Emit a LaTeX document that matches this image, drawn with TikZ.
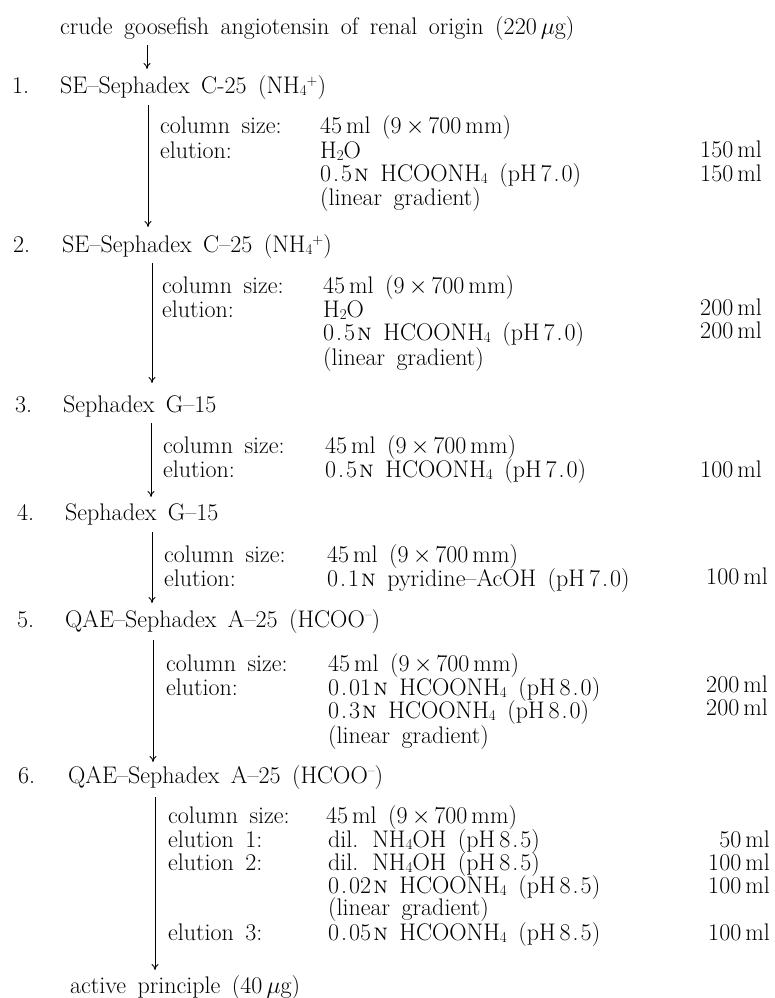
\documentclass[tikz,border=0pt]{standalone}
\usepackage{fix-cm}
\usetikzlibrary{arrows.meta}
\newcommand\bigtxt{\fontsize{24}{24}\selectfont\spaceskip=11.5pt plus 2pt minus 2pt\relax}
\newcommand\nrm{\kern2pt\textsc{n}}
\newcommand\dd{\kern2pt.\kern2pt}
\newcommand\sbs[1]{\raisebox{-2pt}{\fontsize{15}{15}\selectfont #1}}
\newcommand\sps[1]{\raisebox{8pt}{\fontsize{15}{15}\selectfont #1}}
\begin{document}
\begin{tikzpicture}[x=1pt,y=-1pt,
  txt/.style={anchor=base west,inner sep=0pt,font=\bigtxt},
  amt/.style={anchor=base east,inner sep=0pt,font=\bigtxt},
  flow/.style={line width=0.9pt,-{To[length=6pt,width=7pt]}}]
\useasboundingbox (0,0) rectangle (775,998);
% start
\node[txt] (top) at (60,35) {crude goosefish angiotensin of renal origin (220\,$\mu$g)};
\coordinate (a0s) at (147,45); \coordinate (a0e) at (147,69);
\draw[flow] (a0s) -- (a0e);
% step 1
\node[txt] (n1) at (12,93) {1.};
\node[txt] (s1) at (60,93) {SE--Sephadex C-25 (NH\sbs{4}\sps{+})};
\node[txt] (c1) at (160,133) {column size:};
\node[txt] (v1) at (320,133) {45\,ml (9\,$\times$\,700\,mm)};
\node[txt] (e1) at (160,158) {elution:};
\node[txt] (w1a) at (320,158) {H\sbs{2}O};
\node[amt] (m1a) at (762,157) {150\,ml};
\node[txt] (w1b) at (320,181) {0\dd5\nrm\ HCOONH\sbs{4} (pH\,7\dd0)};
\node[amt] (m1b) at (762,181) {150\,ml};
\node[txt] (g1) at (320,205) {(linear gradient)};
\coordinate (a1s) at (148,105); \coordinate (a1e) at (148,227);
\draw[flow] (a1s) -- (a1e);
% step 2
\node[txt] (n2) at (13,252) {2.};
\node[txt] (s2) at (62,252) {SE--Sephadex C--25 (NH\sbs{4}\sps{+})};
\node[txt] (c2) at (162,293) {column size:};
\node[txt] (v2) at (323,293) {45\,ml (9\,$\times$\,700\,mm)};
\node[txt] (e2) at (162,317) {elution:};
\node[txt] (w2a) at (323,317) {H\sbs{2}O};
\node[amt] (m2a) at (762,315) {200\,ml};
\node[txt] (w2b) at (323,340) {0\dd5\nrm\ HCOONH\sbs{4} (pH\,7\dd0)};
\node[amt] (m2b) at (762,338) {200\,ml};
\node[txt] (g2) at (323,365) {(linear gradient)};
\coordinate (a2s) at (152,263); \coordinate (a2e) at (152,383);
\draw[flow] (a2s) -- (a2e);
% step 3
\node[txt] (n3) at (15,412) {3.};
\node[txt] (s3) at (63,412) {Sephadex G--15};
\node[txt] (c3) at (163,453) {column size:};
\node[txt] (v3) at (325,453) {45\,ml (9\,$\times$\,700\,mm)};
\node[txt] (e3) at (163,477) {elution:};
\node[txt] (w3) at (325,477) {0\dd5\nrm\ HCOONH\sbs{4} (pH\,7\dd0)};
\node[amt] (m3) at (762,477) {100\,ml};
\coordinate (a3s) at (151,423); \coordinate (a3e) at (151,497);
\draw[flow] (a3s) -- (a3e);
% step 4
\node[txt] (n4) at (17,520) {4.};
\node[txt] (s4) at (65,520) {Sephadex G--15};
\node[txt] (c4) at (164,562) {column size:};
\node[txt] (v4) at (327,562) {45\,ml (9\,$\times$\,700\,mm)};
\node[txt] (e4) at (164,586) {elution:};
\node[txt] (w4) at (327,586) {0\dd1\nrm\ pyridine--AcOH (pH\,7\dd0)};
\node[amt] (m4) at (768,584) {100\,ml};
\coordinate (a4s) at (152,532); \coordinate (a4e) at (152,603);
\draw[flow] (a4s) -- (a4e);
% step 5
\node[txt] (n5) at (17,627) {5.};
\node[txt] (s5) at (65,627) {QAE--Sephadex A--25 (HCOO\sps{--})};
\node[txt] (c5) at (166,671) {column size:};
\node[txt] (v5) at (328,671) {45\,ml (9\,$\times$\,700\,mm)};
\node[txt] (e5) at (166,695) {elution:};
\node[txt] (w5a) at (328,695) {0\dd01\nrm\ HCOONH\sbs{4} (pH\,8\dd0)};
\node[amt] (m5a) at (768,692) {200\,ml};
\node[txt] (w5b) at (328,718) {0\dd3\nrm\ HCOONH\sbs{4} (pH\,8\dd0)};
\node[amt] (m5b) at (768,715) {200\,ml};
\node[txt] (g5) at (328,743) {(linear gradient)};
\coordinate (a5s) at (153,640); \coordinate (a5e) at (153,762);
\draw[flow] (a5s) -- (a5e);
% step 6
\node[txt] (n6) at (18,783) {6.};
\node[txt] (s6) at (68,783) {QAE--Sephadex A--25 (HCOO\sps{--})};
\node[txt] (c6) at (168,823) {column size:};
\node[txt] (v6) at (326,823) {45\,ml (9\,$\times$\,700\,mm)};
\node[txt] (e6a) at (168,847) {elution 1:};
\node[txt] (w6a) at (328,847) {dil. NH\sbs{4}OH (pH\,8\dd5)};
\node[amt] (m6a) at (770,847) {50\,ml};
\node[txt] (e6b) at (168,870) {elution 2:};
\node[txt] (w6b) at (328,870) {dil. NH\sbs{4}OH (pH\,8\dd5)};
\node[amt] (m6b) at (770,870) {100\,ml};
\node[txt] (w6c) at (328,893) {0\dd02\nrm\ HCOONH\sbs{4} (pH\,8\dd5)};
\node[amt] (m6c) at (770,893) {100\,ml};
\node[txt] (g6) at (328,915) {(linear gradient)};
\node[txt] (e6c) at (168,940) {elution 3:};
\node[txt] (w6d) at (328,940) {0\dd05\nrm\ HCOONH\sbs{4} (pH\,8\dd5)};
\node[amt] (m6d) at (770,940) {100\,ml};
\coordinate (a6s) at (155,797); \coordinate (a6e) at (155,970);
\draw[flow] (a6s) -- (a6e);
% result
\node[txt] (res) at (70,993) {active principle (40\,$\mu$g)};
\end{tikzpicture}
\end{document}
